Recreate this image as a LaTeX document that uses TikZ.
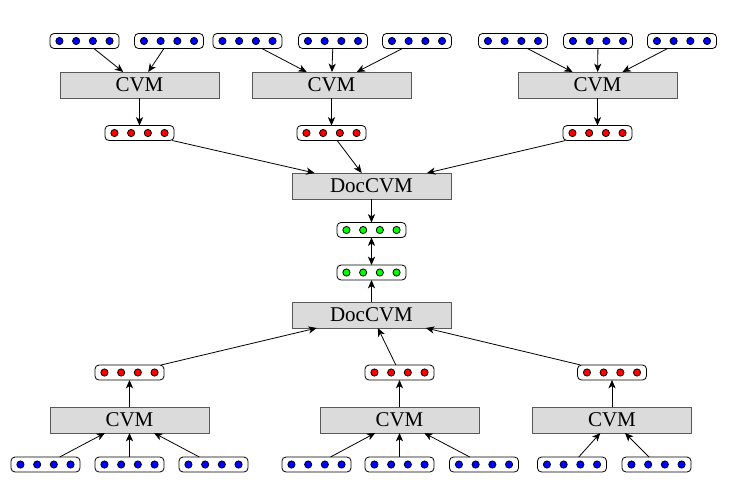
\documentclass[tikz,border=0pt]{standalone}
\usepackage{fontspec}
\setmainfont{Liberation Serif}
\usepackage{tikz}
\usetikzlibrary{arrows.meta}

\begin{document}
\begin{tikzpicture}[x=0.5pt, y=-0.5pt, >={Stealth[length=4.2pt,width=3.6pt,inset=1.2pt]},
  cvm/.style={draw=black!65, fill=black!14, minimum width=79.5pt, minimum height=13pt, inner sep=0pt, outer sep=0pt, font=\fontsize{10.5}{12}\selectfont},
  vec/.style={draw, rounded corners=2pt, minimum width=34.5pt, minimum height=7.5pt, inner sep=0pt, outer sep=0pt},
  dot/.style={circle, draw, inner sep=0pt, minimum size=3.6pt}]
\useasboundingbox (0,0) rectangle (735,489);

% word vectors and sentence vectors
\foreach \n/\x/\y/\c in {t1/84.5/41/blue, t2/169/41/blue, t3/247.5/41/blue, t4/333/41/blue,
    t5/417/41/blue, t6/513/41/blue, t7/598/41/blue, t8/682/41/blue,
    r1/139.5/133/red, r2/331.5/133/red, r3/597.5/133/red,
    g1/371.5/230/green, g2/371.5/272.5/green,
    s1/129.5/372.5/red, s2/399.5/372.5/red, s3/612/372.5/red,
    b1/45.5/464.5/blue, b2/129.5/464.5/blue, b3/213.5/464.5/blue, b4/316.5/464.5/blue,
    b5/399.5/464.5/blue, b6/484/464.5/blue, b7/572/464.5/blue, b8/656.5/464.5/blue} {
  \node[vec] (\n) at (\x,\y) {};
  \foreach \k in {1,...,4}
    \node[dot, fill=\c] (\n\k) at ([xshift=(\k-2.5)*8.35pt]\n.center) {};
}

% composition boxes
\node[cvm] (c1) at (139.5,85) {CVM};
\node[cvm] (c2) at (331.5,85) {CVM};
\node[cvm] (c3) at (597.5,85) {CVM};
\node[cvm] (d1) at (371.5,186) {DocCVM};
\node[cvm] (d2) at (371.5,315) {DocCVM};
\node[cvm] (e1) at (129.5,420) {CVM};
\node[cvm] (e2) at (399.5,420) {CVM};
\node[cvm] (e3) at (612,420) {CVM};

% top document
\draw[->] (t1) -- (c1);
\draw[->] (t2) -- (c1);
\draw[->] (t3) -- (c2);
\draw[->] (t4) -- (c2);
\draw[->] (t5) -- (c2);
\draw[->] (t6) -- (c3);
\draw[->] (t7) -- (c3);
\draw[->] (t8) -- (c3);
\foreach \i in {1,2,3} {
  \draw[->] (c\i) -- (r\i);
  \draw[->] (r\i) -- (d1);
}
\draw[->] (d1) -- (g1);
\draw[<->] (g1) -- (g2);
\draw[->] (d2) -- (g2);

% bottom document
\foreach \i in {1,2,3} {
  \draw[->] (e\i) -- (s\i);
  \draw[->] (s\i) -- (d2);
}
\draw[->] (b1) -- (e1);
\draw[->] (b2) -- (e1);
\draw[->] (b3) -- (e1);
\draw[->] (b4) -- (e2);
\draw[->] (b5) -- (e2);
\draw[->] (b6) -- (e2);
\draw[->] (b7) -- (e3);
\draw[->] (b8) -- (e3);
\end{tikzpicture}
\end{document}
